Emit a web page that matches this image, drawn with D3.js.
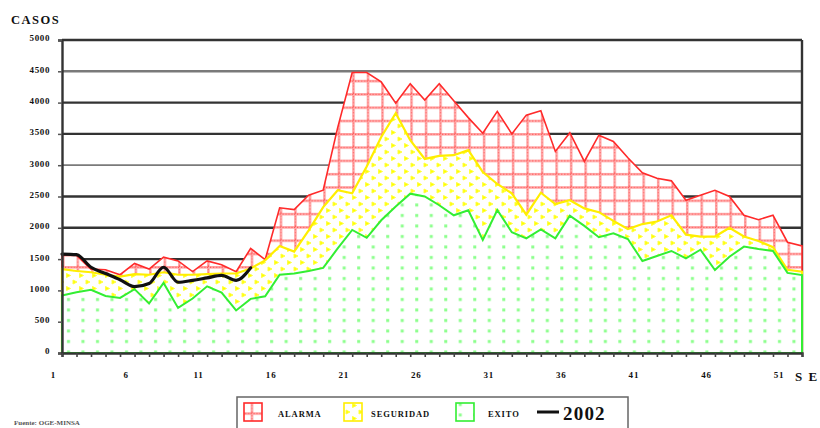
<!DOCTYPE html>
<html>
<head>
<meta charset="utf-8">
<script src="https://cdn.jsdelivr.net/npm/d3@7/dist/d3.min.js"></script>
<style>
  html, body { margin: 0; padding: 0; background: #fff; }
  svg { display: block; }
  .lbl { font-family: "Liberation Serif", "DejaVu Serif", serif; font-weight: bold; fill: #111; }
</style>
</head>
<body>
<svg id="chart" width="820" height="428"></svg>
<script>
// Semanas epidemiológicas
const semanas = [1,2,3,4,5,6,7,8,9,10,11,12,13,14,15,16,17,18,19,20,21,22,23,24,25,26,
  27,28,29,30,31,32,33,34,35,36,37,38,39,40,41,42,43,44,45,46,47,48,49,50,51,52];

// Límite superior de la zona de alarma
const alarma = [1560,1560,1340,1330,1250,1430,1340,1530,1470,1300,1470,1410,1300,1670,1490,2320,
  2290,2520,2600,3600,4480,4480,4330,3990,4300,4040,4300,4030,3760,3510,3860,3500,3800,3870,
  3220,3520,3060,3480,3380,3120,2880,2790,2750,2440,2520,2600,2500,2200,2130,2200,1770,1710];

// Límite superior de la zona de seguridad
const seguridad = [1340,1310,1290,1250,1220,1260,1250,1290,1250,1250,1260,1270,1270,1350,1480,1710,
  1620,1960,2330,2600,2550,2980,3450,3830,3400,3100,3150,3160,3240,2890,2700,2550,2210,2560,
  2380,2440,2310,2250,2110,1980,2060,2100,2200,1890,1860,1860,2000,1860,1790,1690,1330,1300];

// Límite superior de la zona de éxito
const exito = [920,970,1010,910,880,1020,790,1120,720,870,1065,965,680,865,905,1250,
  1270,1310,1360,1670,1965,1840,2120,2340,2545,2500,2360,2200,2280,1805,2284,1930,1830,1975,
  1832,2195,2030,1850,1912,1820,1470,1550,1630,1512,1650,1326,1539,1700,1660,1630,1280,1246];

// Casos notificados en 2002 (semanas 1 a 14)
const casos2002 = [1580,1570,1370,1270,1170,1060,1110,1370,1130,1160,1200,1240,1160,1360];

const yTicks = [0,500,1000,1500,2000,2500,3000,3500,4000,4500,5000];
const xTicks = [1,6,11,16,21,26,31,36,41,46,51];
const leyenda = ["ALARMA", "SEGURIDAD", "EXITO", "2002"];

const svg = d3.select("#chart");
const L = 62, R = 802, T = 40, B = 353;

const x = d3.scaleLinear().domain([1, 52]).range([L, R]);
const y = d3.scaleLinear().domain([0, 5000]).range([B, T]);

// ---- fill patterns ----
const defs = svg.append("defs");
const step = x(2) - x(1);

const pRed = defs.append("pattern").attr("id", "pRed")
  .attr("patternUnits", "userSpaceOnUse").attr("x", L).attr("y", 0)
  .attr("width", step).attr("height", 13.3);
pRed.append("rect").attr("width", step).attr("height", 13.3).attr("fill", "#fff");
pRed.append("line").attr("x1", 0).attr("x2", step).attr("y1", 1.3).attr("y2", 1.3)
  .attr("stroke", "#ffa6a6").attr("stroke-width", 2.6);
pRed.append("line").attr("x1", 1.3).attr("x2", 1.3).attr("y1", 0).attr("y2", 13.3)
  .attr("stroke", "#ffa6a6").attr("stroke-width", 2.6);
pRed.append("line").attr("x1", 0).attr("x2", step).attr("y1", 1.3).attr("y2", 1.3)
  .attr("stroke", "#ff4a4a").attr("stroke-width", 1).attr("stroke-dasharray", "1,2");
pRed.append("line").attr("x1", 1.3).attr("x2", 1.3).attr("y1", 0).attr("y2", 13.3)
  .attr("stroke", "#ff4a4a").attr("stroke-width", 1).attr("stroke-dasharray", "1,2");

const pYel = defs.append("pattern").attr("id", "pYel")
  .attr("patternUnits", "userSpaceOnUse").attr("width", 13).attr("height", 13);
pYel.append("rect").attr("width", 13).attr("height", 13).attr("fill", "#fff");
pYel.append("path").attr("d", "M1.5,0.5 L5.5,2.5 L1.5,4.5 Z M8,7 L12,9 L8,11 Z")
  .attr("fill", "#ffff00").attr("stroke", "#ffff40").attr("stroke-width", 1);

const pGrn = defs.append("pattern").attr("id", "pGrn")
  .attr("patternUnits", "userSpaceOnUse").attr("x", L).attr("width", step).attr("height", 10.5);
pGrn.append("rect").attr("width", step).attr("height", 10.5).attr("fill", "#fff");
pGrn.append("rect").attr("x", 5).attr("y", 4).attr("width", 3).attr("height", 3).attr("fill", "#8cff8c");

// ---- gridlines and frame ----
const gridColor = v => (v === 4500 || v === 3000) ? "#7a7a7a" : "#333";
svg.append("g").selectAll("line").data(yTicks.filter(v => v > 0)).join("line")
  .attr("x1", L).attr("x2", R).attr("y1", d => y(d)).attr("y2", d => y(d))
  .attr("stroke", gridColor).attr("stroke-width", d => d === 3000 ? 1.8 : 2.4);
svg.append("line").attr("x1", R).attr("x2", R).attr("y1", T).attr("y2", B)
  .attr("stroke", "#333").attr("stroke-width", 2.4);

// ---- endemic channel areas ----
const rows = semanas.map((s, i) => ({ s, a: alarma[i], g: seguridad[i], e: exito[i] }));
const areaOf = key => d3.area().x(d => x(d.s)).y0(y(0)).y1(d => y(d[key]));

svg.append("path").datum(rows).attr("d", areaOf("a"))
  .attr("fill", "url(#pRed)").attr("stroke", "#ff2a2a").attr("stroke-width", 1.6);
svg.append("path").datum(rows).attr("d", areaOf("g"))
  .attr("fill", "url(#pYel)").attr("stroke", "#ffee00").attr("stroke-width", 2.2);
svg.append("path").datum(rows).attr("d", areaOf("e"))
  .attr("fill", "url(#pGrn)").attr("stroke", "#33ee33").attr("stroke-width", 2);

// ---- 2002 line ----
const line2002 = d3.line().x((d, i) => x(semanas[i])).y(d => y(d)).curve(d3.curveMonotoneX);
svg.append("path").datum(casos2002).attr("d", line2002)
  .attr("fill", "none").attr("stroke", "#111").attr("stroke-width", 3.2)
  .attr("stroke-linejoin", "round").attr("stroke-linecap", "round");

// ---- axes ----
const yAxis = svg.append("g").attr("transform", `translate(${L},0)`)
  .call(d3.axisLeft(y).tickValues(yTicks).tickSize(4).tickPadding(8).tickFormat(d3.format("d")));
yAxis.select(".domain").attr("stroke", "#333").attr("stroke-width", 2.4);
yAxis.selectAll(".tick line").attr("stroke", "#555").attr("stroke-width", 1.5);
yAxis.selectAll(".tick text").attr("class", "lbl").attr("font-size", 9)
  .attr("letter-spacing", 0.6).attr("dy", "0.1em");

const xAxis = svg.append("g").attr("transform", `translate(0,${B})`)
  .call(d3.axisBottom(x).tickValues(semanas).tickSize(4).tickFormat(""));
xAxis.select(".domain").attr("stroke", "#333").attr("stroke-width", 2.4);
xAxis.selectAll(".tick line").attr("stroke", "#444").attr("stroke-width", 1.6);

const xLab = svg.append("g").attr("transform", `translate(0,${B})`)
  .call(d3.axisBottom(x).tickValues(xTicks).tickSize(0).tickPadding(19).tickFormat(d3.format("d")));
xLab.select(".domain").remove();
xLab.selectAll(".tick text").attr("class", "lbl").attr("font-size", 9)
  .attr("letter-spacing", 0.8).attr("dx", -9);

svg.append("text").attr("class", "lbl").attr("x", 795).attr("y", 381)
  .attr("font-size", 13).attr("letter-spacing", 1.5).text("S E");
svg.append("text").attr("class", "lbl").attr("x", 11).attr("y", 24)
  .attr("font-size", 12.5).attr("letter-spacing", 1.5).text("CASOS");

// ---- legend ----
const lg = svg.append("g");
lg.append("rect").attr("x", 237).attr("y", 397).attr("width", 391).attr("height", 40)
  .attr("fill", "#fff").attr("stroke", "#666").attr("stroke-width", 1.5);
const sw = [
  { x: 244, fill: "url(#pRed)", stroke: "#ff2a2a", tx: 278, t: leyenda[0] },
  { x: 344, fill: "url(#pYel)", stroke: "#ffee00", tx: 371, t: leyenda[1] },
  { x: 456, fill: "url(#pGrn)", stroke: "#33ee33", tx: 488, t: leyenda[2] }
];
sw.forEach(s => {
  lg.append("rect").attr("x", s.x).attr("y", 403).attr("width", 18).attr("height", 18)
    .attr("fill", s.fill).attr("stroke", s.stroke).attr("stroke-width", 1.6);
  lg.append("text").attr("class", "lbl").attr("x", s.tx).attr("y", 417)
    .attr("font-size", 8.5).attr("letter-spacing", 0.9).text(s.t);
});
lg.append("line").attr("x1", 537).attr("x2", 559).attr("y1", 412).attr("y2", 412)
  .attr("stroke", "#111").attr("stroke-width", 3);
lg.append("text").attr("class", "lbl").attr("x", 563).attr("y", 420)
  .attr("font-size", 19).attr("letter-spacing", 1.2).text(leyenda[3]);

svg.append("text").attr("x", 14).attr("y", 425).attr("font-size", 7)
  .attr("font-family", "Liberation Serif, serif").attr("font-weight", "bold")
  .attr("fill", "#555").text("Fuente:  OGE-MINSA");
</script>
</body>
</html>
